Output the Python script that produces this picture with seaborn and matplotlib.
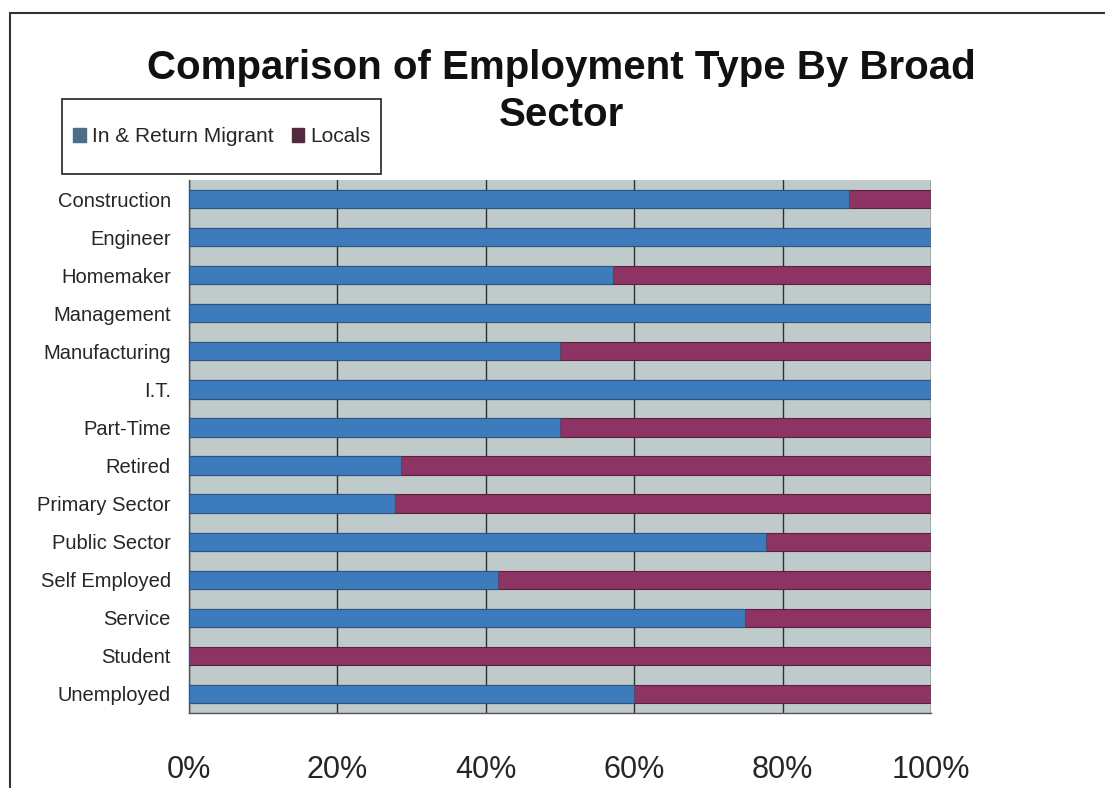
import numpy as np
import pandas as pd
import matplotlib
matplotlib.use("Agg")
import matplotlib.pyplot as plt
from matplotlib import font_manager as fm
from matplotlib.patches import Patch, Rectangle
import seaborn as sns

# Employment type by broad sector (share of respondents, %)
sectors = ["Construction", "Engineer", "Homemaker", "Management", "Manufacturing",
           "I.T.", "Part-Time", "Retired", "Primary Sector", "Public Sector",
           "Self Employed", "Service", "Student", "Unemployed"]
in_return_migrant = [88.9, 100.0, 57.1, 100.0, 50.0, 100.0, 50.0, 28.6, 27.8, 77.8,
                     41.7, 75.0, 0.0, 60.0]
locals_share = [11.1, 0.0, 42.9, 0.0, 50.0, 0.0, 50.0, 71.4, 72.2, 22.2,
                58.3, 25.0, 100.0, 40.0]
x_ticks = [0, 20, 40, 60, 80, 100]
x_tick_labels = ["0%", "20%", "40%", "60%", "80%", "100%"]
series_names = ["In & Return Migrant", "Locals"]
title_lines = ["Comparison of Employment Type By Broad", "Sector"]

BLUE = "#3d7cbc"
MAGENTA = "#8e3464"
PLOT_BG = "#bfcbcb"


def font_file(stem):
    """Return the path of an installed font file whose name starts with stem."""
    for f in fm.fontManager.ttflist:
        base = f.fname.replace("\\", "/").split("/")[-1]
        if base.lower().startswith(stem.lower()):
            return f.fname
    return None


reg_path = font_file("LiberationSans-Regular")
bold_path = font_file("LiberationSans-Bold.")
REG = fm.FontProperties(fname=reg_path) if reg_path else fm.FontProperties(family="DejaVu Sans")
BOLD = (fm.FontProperties(fname=bold_path) if bold_path
        else fm.FontProperties(family="DejaVu Sans", weight="bold"))


def sized(prop, size):
    p = prop.copy()
    p.set_size(size)
    return p


df = pd.DataFrame({
    "sector": sectors,
    "migrant": in_return_migrant,
    "total": np.array(in_return_migrant) + np.array(locals_share),
})

sns.set_theme(style="white")
plt.rcParams["font.family"] = ["Liberation Sans", "DejaVu Sans"]

W, H = 1105, 788
fig = plt.figure(figsize=(W / 100, H / 100), dpi=100)
ax = fig.add_axes([189 / W, 1 - 713 / H, (931 - 189) / W, (713 - 180) / H])
ax.set_facecolor(PLOT_BG)

# Stacked bars: full length (locals on top of migrants) first, migrants over it
sns.barplot(data=df, x="total", y="sector", order=sectors, orient="h",
            color=MAGENTA, saturation=1, width=0.48, edgecolor="#5a2040",
            linewidth=0.8, ax=ax, zorder=3)
sns.barplot(data=df, x="migrant", y="sector", order=sectors, orient="h",
            color=BLUE, saturation=1, width=0.48, edgecolor="#2a5680",
            linewidth=0.8, ax=ax, zorder=4)

ax.set_xlim(0, 100)
ax.set_ylim(len(sectors) - 0.5, -0.5)
ax.set_xlabel("")
ax.set_ylabel("")

ax.set_xticks(x_ticks)
ax.set_xticklabels(x_tick_labels, fontproperties=sized(REG, 22))
ax.grid(axis="x", color="#2e2e2e", linewidth=1.0, zorder=1)
ax.set_axisbelow(True)

ax.set_yticks(range(len(sectors)))
ax.set_yticklabels(sectors, fontproperties=sized(REG, 14.5))
ax.set_yticks(np.arange(-0.5, len(sectors), 1), minor=True)
ax.tick_params(axis="y", which="major", length=0, pad=13)
ax.tick_params(axis="y", which="minor", length=5, direction="out", color="#555555", width=1)
ax.tick_params(axis="x", which="major", length=8, direction="out", color="#555555",
               width=1, pad=22)

for side in ("top", "right"):
    ax.spines[side].set_visible(False)
for side in ("left", "bottom"):
    ax.spines[side].set_color("#555555")
    ax.spines[side].set_linewidth(1.0)

# Two-line bold title
title_font = sized(BOLD, 29)
fig.text(561 / W, 1 - 79 / H, title_lines[0], ha="center", va="baseline",
         fontproperties=title_font, color="#111111")
fig.text(561 / W, 1 - 126 / H, title_lines[1], ha="center", va="baseline",
         fontproperties=title_font, color="#111111")

# Legend: entries in a single row inside a plain rectangular box
fig.add_artist(Rectangle((62 / W, 1 - 174 / H), (381 - 62) / W, (174 - 99) / H,
                         transform=fig.transFigure, facecolor="white",
                         edgecolor="#222222", linewidth=1.2, zorder=5))
handles = [Patch(facecolor="#4e6d86", edgecolor="#4e6d86"),
           Patch(facecolor="#54283f", edgecolor="#54283f")]
leg = fig.legend(handles, series_names, loc="center left",
                 bbox_to_anchor=(73 / W, 1 - 137 / H), ncol=2, prop=sized(REG, 15),
                 frameon=False, handlelength=0.62, handleheight=0.62,
                 handletextpad=0.3, columnspacing=0.85, borderpad=0,
                 borderaxespad=0)
leg.set_zorder(6)

# Outer chart frame (top and left edges)
fig.add_artist(Rectangle((10 / W, -0.1), 1.2, 1 - 13 / H + 0.1,
                         transform=fig.transFigure, fill=False,
                         edgecolor="#333333", linewidth=1.5, clip_on=False))

fig.savefig("out.png", dpi=100)
